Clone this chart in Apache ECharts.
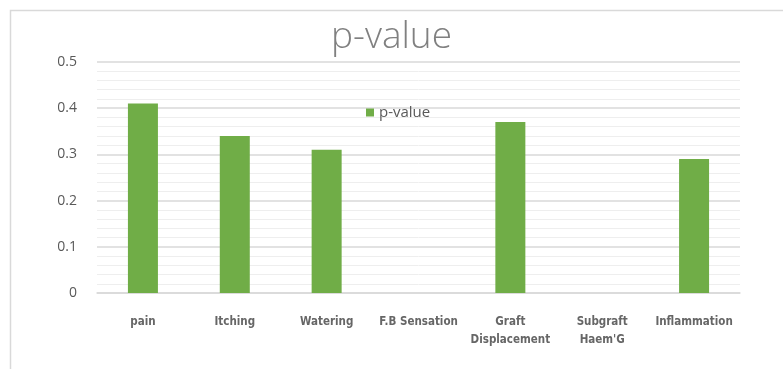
<!DOCTYPE html>
<html>
<head>
<meta charset="utf-8">
<script src="https://cdn.jsdelivr.net/npm/echarts@6/dist/echarts.min.js"></script>
<style>
  html, body { margin: 0; padding: 0; background: #fff; }
  #chart { width: 783px; height: 369px; }
</style>
</head>
<body>
<div id="chart"></div>
<script>
// Chart data
const categories = ['pain', 'Itching', 'Watering', 'F.B Sensation', 'Graft\nDisplacement', 'Subgraft\nHaem\'G', 'Inflammation'];
const pValues = [0.41, 0.34, 0.31, null, 0.37, null, 0.29];
const yTicks = [0, 0.1, 0.2, 0.3, 0.4, 0.5];

const chart = echarts.init(document.getElementById('chart'));

const option = {
    animation: false,
    title: {
        text: 'p-value',
        left: 'center',
        top: 14,
        textStyle: {
            fontFamily: 'Open Sans',
            fontWeight: 300,
            fontSize: 37,
            color: '#808080'
        }
    },
    legend: {
        left: 361,
        top: 100,
        itemWidth: 8,
        itemHeight: 8,
        itemGap: 6,
        icon: 'rect',
        textStyle: {
            fontFamily: 'Open Sans',
            fontSize: 15,
            color: '#595959'
        },
        data: ['p-value']
    },
    grid: {
        left: 97,
        right: 43,
        top: 62,
        bottom: 76
    },
    graphic: [{
        type: 'rect',
        silent: true,
        shape: { x: 10.5, y: 10.5, width: 800, height: 400 },
        style: { fill: 'none', stroke: '#d9d9d9', lineWidth: 1.5 }
    }],
    xAxis: {
        type: 'category',
        data: categories,
        axisLine: { lineStyle: { color: '#d9d9d9', width: 1.5 } },
        axisTick: { show: false },
        axisLabel: {
            margin: 20,
            interval: 0,
            fontFamily: 'Liberation Sans Narrow, DejaVu Sans Condensed, sans-serif',
            fontWeight: 'bold',
            fontSize: 11.5,
            lineHeight: 18,
            color: '#666666'
        }
    },
    yAxis: {
        type: 'value',
        min: yTicks[0],
        max: yTicks[yTicks.length - 1],
        interval: 0.1,
        axisLine: { show: false },
        axisTick: { show: false },
        axisLabel: {
            margin: 20,
            fontFamily: 'Open Sans',
            fontSize: 14,
            color: '#595959'
        },
        splitLine: { lineStyle: { color: '#d9d9d9', width: 1.5 } },
        minorTick: { show: false, splitNumber: 5 },
        minorSplitLine: { show: true, lineStyle: { color: '#eeeeee', width: 1 } }
    },
    series: [{
        name: 'p-value',
        type: 'bar',
        data: pValues,
        barWidth: 30,
        itemStyle: { color: '#70ad47' }
    }]
};

chart.setOption(option);
</script>
</body>
</html>
